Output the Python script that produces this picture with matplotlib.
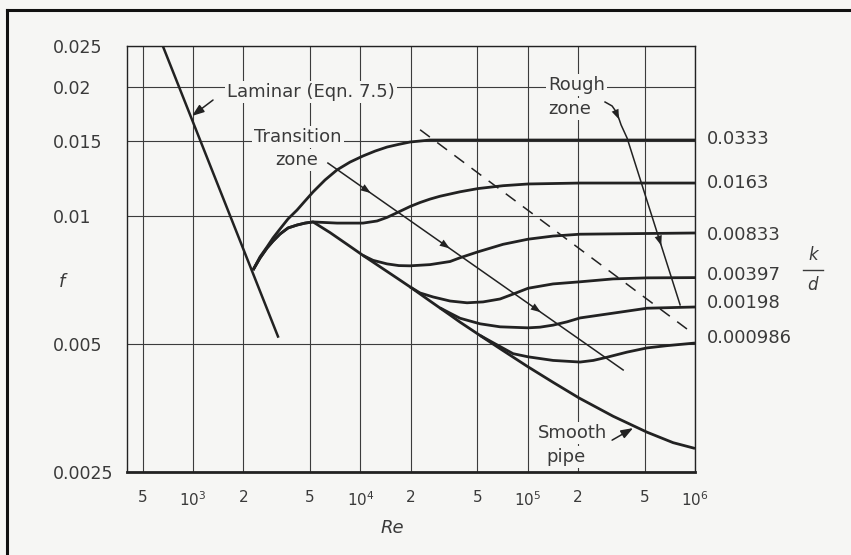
import matplotlib.pyplot as plt
import numpy as np
from matplotlib.lines import Line2D
from matplotlib.ticker import NullLocator

# axis ranges, grid and tick labels
re_lim = (403, 1e6)
f_lim = (0.0025, 0.025)
re_grid = [500, 1e3, 2e3, 5e3, 1e4, 2e4, 5e4, 1e5, 2e5, 5e5, 1e6]
re_labels = ['5', '$10^3$', '2', '5', '$10^4$', '2', '5', '$10^5$', '2', '5', '$10^6$']
f_grid = [0.0025, 0.005, 0.01, 0.015, 0.02, 0.025]
f_labels = ['0.0025', '0.005', '0.01', '0.015', '0.02', '0.025']

# laminar line (Eqn. 7.5)
lam_re = [660, 3220]
lam_f = [0.025, 0.0052]

# smooth pipe
smooth_re = [2284, 2515, 2769, 3007, 3311, 3697, 4184, 4671, 5216, 6590, 8327, 10380, 13120, 16570,
             19820, 26090, 34380, 39440, 51940, 68390, 100000, 141800, 202900, 323900, 517300, 739800, 1e6]
smooth_f = [0.00745, 0.00795, 0.00839, 0.00871, 0.00905, 0.00935, 0.0095, 0.0096, 0.00966, 0.00912,
            0.00856, 0.00806, 0.00758, 0.00713, 0.0068, 0.0063, 0.00584, 0.00562, 0.00523, 0.00487,
            0.00442, 0.00406, 0.00373, 0.00338, 0.0031, 0.00293, 0.00284]

# rough pipes, k/d
re_0333 = [2284, 2515, 2769, 3007, 3311, 3697, 4184, 4671, 5216, 6152, 7258, 8678, 10380, 12260,
           14440, 16800, 19820, 26090, 1e6]
f_0333 = [0.00745, 0.0080, 0.00844, 0.00886, 0.0093, 0.00982, 0.0103, 0.01082, 0.01136, 0.01212,
          0.0128, 0.01335, 0.0138, 0.01417, 0.01448, 0.01468, 0.01488, 0.01504, 0.01504]

re_0163 = [2284, 2515, 2769, 3007, 3311, 3697, 4184, 4671, 5216, 7258, 10380, 12590, 14440, 16800,
           19820, 22750, 26090, 29950, 39440, 50520, 71290, 100550, 205700, 1e6]
f_0163 = [0.00745, 0.00795, 0.00839, 0.00871, 0.00905, 0.00935, 0.0095, 0.0096, 0.00966, 0.0096,
          0.0096, 0.00971, 0.0099, 0.01018, 0.0105, 0.01073, 0.01093, 0.0111, 0.01137, 0.01157,
          0.01175, 0.01186, 0.01192, 0.01192]

re_00833 = [10380, 11910, 14440, 17000, 19820, 26090, 34380, 39440, 50520, 71290, 100550, 141800,
            205700, 1e6]
f_00833 = [0.00806, 0.00785, 0.0077, 0.00763, 0.00762, 0.00767, 0.0078, 0.00796, 0.00822, 0.00856,
           0.0088, 0.00895, 0.00904, 0.0091]

re_00397 = [19820, 22750, 27200, 34380, 43420, 54120, 68390, 81780, 100550, 141800, 205700, 323900,
            517300, 1e6]
f_00397 = [0.0068, 0.00658, 0.00644, 0.0063, 0.00624, 0.00627, 0.00637, 0.00654, 0.00675, 0.00691,
           0.00699, 0.0071, 0.00714, 0.00715]

re_00198 = [29950, 34380, 39440, 51940, 68390, 100550, 118600, 141800, 172000, 205700, 323900,
            517300, 1e6]
f_00198 = [0.00607, 0.0059, 0.00574, 0.00557, 0.00548, 0.00545, 0.00547, 0.00553, 0.00563, 0.00575,
           0.0059, 0.00606, 0.0061]

re_000986 = [51940, 63860, 81780, 100550, 141800, 205700, 246800, 298300, 392800, 517300, 681300, 1e6]
f_000986 = [0.00523, 0.005, 0.00474, 0.00466, 0.00457, 0.00453, 0.00457, 0.00465, 0.00478, 0.00489,
            0.00495, 0.00502]

kd_labels = ['0.0333', '0.0163', '0.00833', '0.00397', '0.00198', '0.000986']
kd_label_f = [0.0151, 0.0119, 0.0090, 0.00725, 0.00623, 0.00516]
kd_label_re = 1.18e6

# zone boundary lines
trans_re = [6400, 372000]
trans_f = [0.01328, 0.00434]
trans_arrow_re = [11900, 35300, 123600]
dash_re = [22750, 910000]
dash_f = [0.0159, 0.00539]
rough_re = [290000, 319500, 342000, 361600, 392800, 814500]
rough_f = [0.01847, 0.01808, 0.0174, 0.01632, 0.0152, 0.00617]
rough_arrow_re = [356700, 636000]

bg = '#f6f6f4'
ink = '#222222'
txt = '#3a3a3a'

plt.rcParams['font.family'] = ['DejaVu Sans']
plt.rcParams['mathtext.default'] = 'regular'

fig = plt.figure(figsize=(8.51, 5.55), dpi=100, facecolor=bg)
ax = fig.add_axes([0.1492, 0.1495, 0.6675, 0.7676])
ax.set_facecolor(bg)
ax.set_xscale('log')
ax.set_yscale('log')
ax.set_xlim(re_lim)
ax.set_ylim(f_lim)

ax.set_xticks(re_grid, re_labels)
ax.set_yticks(f_grid, f_labels)
ax.xaxis.set_minor_locator(NullLocator())
ax.yaxis.set_minor_locator(NullLocator())
ax.tick_params(axis='x', length=0, pad=13, labelsize=11, labelcolor=txt)
ax.tick_params(axis='y', length=0, pad=53, labelsize=12.5, labelcolor=txt)
for lab in ax.get_yticklabels():
    lab.set_horizontalalignment('left')
ax.grid(True, color='#3c3c3c', lw=0.8)
ax.set_axisbelow(True)
for s in ax.spines.values():
    s.set_color(ink)
    s.set_linewidth(1.0)
ax.spines['bottom'].set_linewidth(2.0)

curve_kw = dict(color=ink, lw=2.0, zorder=4, solid_capstyle='butt', solid_joinstyle='round')
ax.plot(lam_re, lam_f, color=ink, lw=1.8, zorder=4)
ax.plot(smooth_re, smooth_f, **curve_kw)
for r, f in [(re_0333, f_0333), (re_0163, f_0163), (re_00833, f_00833),
             (re_00397, f_00397), (re_00198, f_00198), (re_000986, f_000986)]:
    ax.plot(r, f, clip_on=False, **curve_kw)

thin = dict(color=ink, lw=1.1, zorder=4)
ax.plot(trans_re, trans_f, **thin)
ax.plot(dash_re, dash_f, dashes=(8, 6), **thin)
ax.plot(rough_re, rough_f, solid_joinstyle='round', **thin)


def arrow_on(xs, ys, xa):
    # small arrowhead on a polyline (log-log), pointing along it
    lx, ly = np.log10(xs), np.log10(ys)
    la = np.log10(xa)
    y1 = 10 ** np.interp(la, lx, ly)
    y0 = 10 ** np.interp(la - 0.03, lx, ly)
    ax.annotate('', xy=(xa, y1), xytext=(10 ** (la - 0.03), y0),
                arrowprops=dict(arrowstyle='-|>,head_length=0.6,head_width=0.22',
                                color=ink, lw=0.01, mutation_scale=12), zorder=5)


for xa in trans_arrow_re:
    arrow_on(trans_re, trans_f, xa)
for xa in rough_arrow_re:
    arrow_on(rough_re, rough_f, xa)

box = dict(facecolor=bg, edgecolor='none', pad=1.5)
tkw = dict(fontsize=13, color=txt, bbox=box, zorder=3)

ax.text(5074, 0.0195, 'Laminar (Eqn. 7.5)', ha='center', va='center', **tkw)
ax.annotate('', xy=(986, 0.01713), xytext=(1317, 0.01867),
            arrowprops=dict(arrowstyle='-|>,head_length=0.6,head_width=0.22',
                            color=ink, lw=1.1, mutation_scale=12, shrinkA=0, shrinkB=0), zorder=5)
ax.text(4242, 0.01529, 'Transition', ha='center', va='center', **tkw)
ax.text(4190, 0.0135, 'zone', ha='center', va='center', **tkw)
ax.text(132400, 0.02025, 'Rough', ha='left', va='center', **tkw)
ax.text(132400, 0.01779, 'zone', ha='left', va='center', **tkw)
ax.text(184300, 0.00309, 'Smooth', ha='center', va='center', **tkw)
ax.text(169600, 0.00271, 'pipe', ha='center', va='center', **tkw)
ax.annotate('', xy=(426600, 0.00317), xytext=(319500, 0.00297),
            arrowprops=dict(arrowstyle='-|>,head_length=0.6,head_width=0.22',
                            color=ink, lw=1.1, mutation_scale=12, shrinkA=0, shrinkB=0), zorder=5)

for lab, fy in zip(kd_labels, kd_label_f):
    ax.text(kd_label_re, fy, lab, ha='left', va='center', fontsize=13,
            color=txt, clip_on=False)

fig.text(0.9553, 0.5405, 'k', fontsize=12, style='italic', color=txt, ha='center', va='center')
fig.text(0.9553, 0.4865, 'd', fontsize=12, style='italic', color=txt, ha='center', va='center')
fig.add_artist(Line2D([0.9436, 0.9671], [0.5135, 0.5135], color=txt, lw=1.0))

fig.text(0.0729, 0.4919, 'f', fontsize=13, style='italic', color=txt, ha='center', va='center')
fig.text(0.4606, 0.0486, 'Re', fontsize=13, style='italic', color=txt, ha='center', va='center')

# outer frame of the printed figure
fig.add_artist(Line2D([0.0082, 0.0082], [0.0, 0.982], color='#111111', lw=2.2))
fig.add_artist(Line2D([0.0082, 1.0], [0.982, 0.982], color='#111111', lw=2.2))

fig.savefig('out.png', dpi=100, facecolor=bg)
